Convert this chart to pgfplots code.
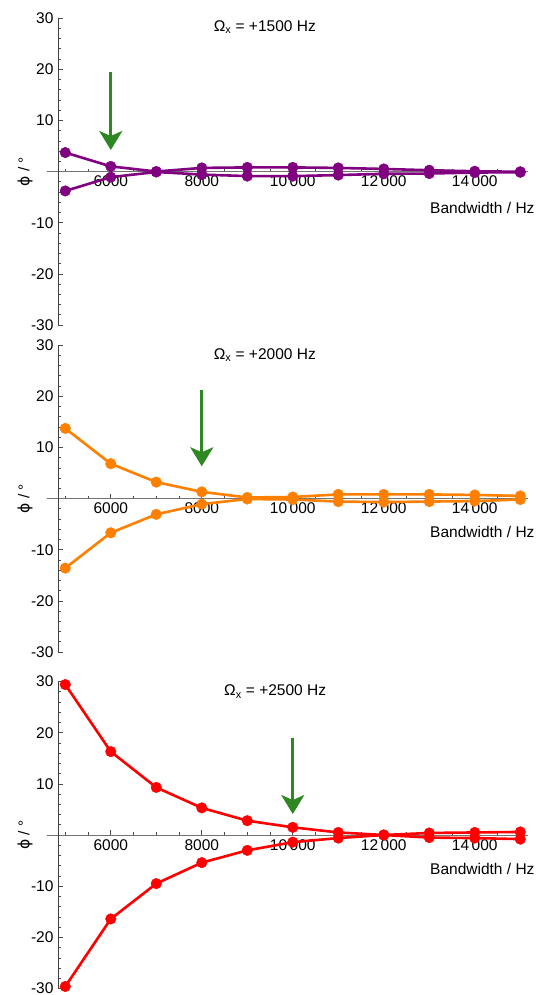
\documentclass[border=0pt]{standalone}
\usepackage{pgfplots}
\pgfplotsset{compat=1.18}
\usepackage{fontspec}
\setmainfont{Liberation Sans}
\newfontfamily\dejavu{DejaVu Sans}
\usetikzlibrary{arrows.meta}
\definecolor{mpurple}{rgb}{0.5,0,0.5}
\definecolor{morange}{rgb}{1,0.5,0}
\definecolor{mred}{rgb}{1,0,0}
\definecolor{agreen}{RGB}{45,135,35}

\pgfplotsset{
  panel/.style={
    scale only axis, width=470pt, height=307pt,
    anchor=south west,
    xmin=4840, xmax=15170, ymin=-30, ymax=30,
    axis x line=middle, axis y line=left,
    axis line style={-},
    x axis line style={-, black!55, line width=0.7pt, shorten <=-11pt},
    y axis line style={-, black!75, line width=0.7pt},
    scaled x ticks=false, scaled y ticks=false,
    xtick={6000,8000,10000,12000,14000},
    xticklabels={6000,8000,10\,000,12\,000,14\,000},
    minor xtick={5000,5500,...,15000},
    ytick={-30,-20,-10,10,20,30},
    yticklabels={-30,-20,-10,10,20,30},
    minor ytick={-28,-26,...,28},
    tick align=inside,
    major tick length=5pt, minor tick length=3pt,
    every tick/.style={black!70, line width=0.6pt},
    font=\fontsize{15.5}{18}\selectfont,
    xticklabel style={font=\fontsize{15.5}{18}\selectfont, yshift=-1pt},
    yticklabel style={font=\fontsize{15.5}{18}\selectfont, xshift=-1pt},
    /pgf/number format/assume math mode=true,
    clip=false,
  },
  ser/.style={line width=2.6pt, mark=*, mark size=5.3pt, mark options={solid, line width=0.4pt}},
}

\begin{document}
\begin{tikzpicture}[x=1pt,y=1pt]
\useasboundingbox (0,0) rectangle (539,-995);

% Panel 1
\begin{axis}[panel, at={(58pt,-325pt)}]
\addplot[ser, color=mpurple] table {
x y
5000 3.7
6000 1.0
7000 0.0
8000 0.7
9000 0.8
10000 0.8
11000 0.7
12000 0.5
13000 0.25
14000 0.05
15000 -0.05
};
\addplot[ser, color=mpurple] table {
x y
5000 -3.8
6000 -1.1
7000 -0.1
8000 -0.6
9000 -0.9
10000 -0.9
11000 -0.7
12000 -0.45
13000 -0.4
14000 -0.2
15000 -0.15
};
\draw[-{Stealth[length=19pt,width=23pt,inset=5pt]}, line width=2.7pt, agreen] (axis cs:6000,19.4) -- (axis cs:6000,4.2);
\node at (rel axis cs:0.44,1) [yshift=-9.5pt] {Ω\textsubscript{x} = +1500 Hz};
\node[anchor=east] at (axis cs:15170,0) [xshift=10pt, yshift=-36.5pt] {Bandwidth / Hz};
\node[rotate=90] at ([xshift=-33pt]axis cs:4840,0) {{\dejavu ϕ} / °};
\end{axis}

% Panel 2
\begin{axis}[panel, at={(58pt,-652pt)}]
\addplot[ser, color=morange] table {
x y
5000 13.7
6000 6.8
7000 3.2
8000 1.3
9000 0.2
10000 0.3
11000 0.8
12000 0.8
13000 0.8
14000 0.7
15000 0.5
};
\addplot[ser, color=morange] table {
x y
5000 -13.6
6000 -6.7
7000 -3.1
8000 -1.1
9000 -0.1
10000 -0.2
11000 -0.6
12000 -0.7
13000 -0.6
14000 -0.5
15000 -0.2
};
\draw[-{Stealth[length=19pt,width=23pt,inset=5pt]}, line width=2.7pt, agreen] (axis cs:8000,21.2) -- (axis cs:8000,6.3);
\node at (rel axis cs:0.44,1) [yshift=-10pt] {Ω\textsubscript{x} = +2000 Hz};
\node[anchor=east] at (axis cs:15170,0) [xshift=10pt, yshift=-33pt] {Bandwidth / Hz};
\node[rotate=90] at ([xshift=-33pt]axis cs:4840,0) {{\dejavu ϕ} / °};
\end{axis}

% Panel 3
\begin{axis}[panel, at={(58pt,-988.5pt)}]
\addplot[ser, color=mred] table {
x y
5000 29.4
6000 16.3
7000 9.3
8000 5.3
9000 2.8
10000 1.5
11000 0.5
12000 0.0
13000 0.4
14000 0.5
15000 0.6
};
\addplot[ser, color=mred] table {
x y
5000 -29.6
6000 -16.4
7000 -9.5
8000 -5.4
9000 -3.0
10000 -1.4
11000 -0.6
12000 0.0
13000 -0.5
14000 -0.6
15000 -0.8
};
\draw[-{Stealth[length=19pt,width=23pt,inset=5pt]}, line width=2.7pt, agreen] (axis cs:10000,19.0) -- (axis cs:10000,4.1);
\node at (rel axis cs:0.462,1) [yshift=-10pt] {Ω\textsubscript{x} = +2500 Hz};
\node[anchor=east] at (axis cs:15170,0) [xshift=10pt, yshift=-34pt] {Bandwidth / Hz};
\node[rotate=90] at ([xshift=-33pt]axis cs:4840,0) {{\dejavu ϕ} / °};
\end{axis}
\end{tikzpicture}
\end{document}
